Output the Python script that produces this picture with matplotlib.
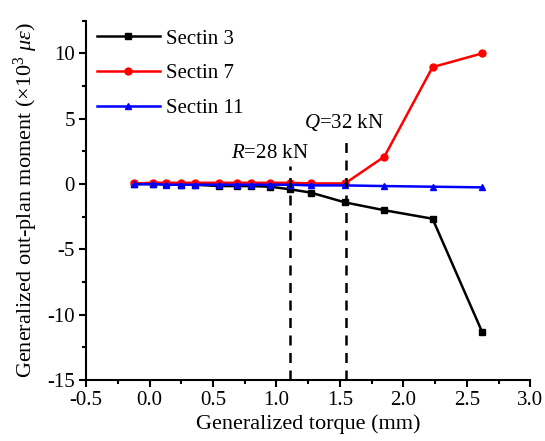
import matplotlib.pyplot as plt
import numpy as np

plt.rcParams['font.family'] = ['Liberation Serif', 'DejaVu Serif']
plt.rcParams['font.size'] = 15
plt.rcParams['mathtext.fontset'] = 'custom'
plt.rcParams['mathtext.rm'] = 'Liberation Serif'
plt.rcParams['mathtext.it'] = 'Liberation Serif:italic'

# generalized torque (mm)
torque = [-0.12, 0.03, 0.13, 0.25, 0.36, 0.55, 0.69, 0.80, 0.95, 1.11, 1.27, 1.54, 1.85, 2.23, 2.62]
sec3 = [0.0, 0.0, 0.0, -0.05, -0.05, -0.15, -0.15, -0.15, -0.2, -0.4, -0.65, -1.4, -2.0, -2.65, -11.3]
sec7 = [0.05, 0.1, 0.1, 0.1, 0.1, 0.1, 0.1, 0.1, 0.1, 0.1, 0.05, 0.05, 2.1, 8.95, 10.0]
sec11 = [0.0, 0.0, -0.05, -0.05, -0.05, -0.05, -0.05, -0.05, -0.05, -0.05, -0.1, -0.1, -0.15, -0.2, -0.25]

labels = ['Sectin 3', 'Sectin 7', 'Sectin 11']
colors = ['black', 'red', 'blue']
markers = ['s', 'o', '^']

r_x, q_x = 1.105, 1.545

fig = plt.figure(figsize=(5.45, 4.41), dpi=100)
ax = fig.add_axes([0.158, 0.138, 0.815, 0.815])

for y, lab, c, m in zip([sec3, sec7, sec11], labels, colors, markers):
    ax.plot(torque, y, color=c, marker=m, markersize=5, linewidth=1.8, label=lab)

ax.plot([r_x, r_x], [-15, 1.4], 'k--', linewidth=1.8, dashes=(4, 3))
ax.plot([q_x, q_x], [-15, 3.5], 'k--', linewidth=1.8, dashes=(4, 3))
ax.text(0.645, 2.0, r'$R$=28 kN', va='baseline')
ax.text(1.22, 4.3, r'$Q$=32 kN', va='baseline')

ax.set_xlim(-0.5, 3.0)
ax.set_ylim(-15, 12.5)
ax.set_xticks(np.arange(-0.5, 3.01, 0.5))
ax.set_xticklabels(['-0.5', '0.0', '0.5', '1.0', '1.5', '2.0', '2.5', '3.0'])
ax.set_yticks([-15, -10, -5, 0, 5, 10])
ax.set_yticklabels(['-15', '-10', '-5', '0', '5', '10'])
ax.set_xticks(np.arange(-0.25, 3.0, 0.5), minor=True)
ax.set_yticks([-12.5, -7.5, -2.5, 2.5, 7.5, 12.5], minor=True)
ax.tick_params(which='major', direction='out', length=5, width=1.5, pad=3)
ax.tick_params(which='minor', direction='out', length=3, width=1.5)
for s in ['top', 'right']:
    ax.spines[s].set_visible(False)
for s in ['left', 'bottom']:
    ax.spines[s].set_linewidth(1.5)

ax.set_xlabel('Generalized torque (mm)', fontsize=16, labelpad=3)
ax.set_ylabel(r'Generalized out-plan moment ($\times$10$^3$ $\mu\varepsilon$)',
              fontsize=16, labelpad=5)

ax.legend(loc='upper left', frameon=False, bbox_to_anchor=(0.006, 1.0),
          handlelength=3.0, handletextpad=0.3, labelspacing=0.72, borderaxespad=0.0)

fig.savefig('out.png', dpi=100)
